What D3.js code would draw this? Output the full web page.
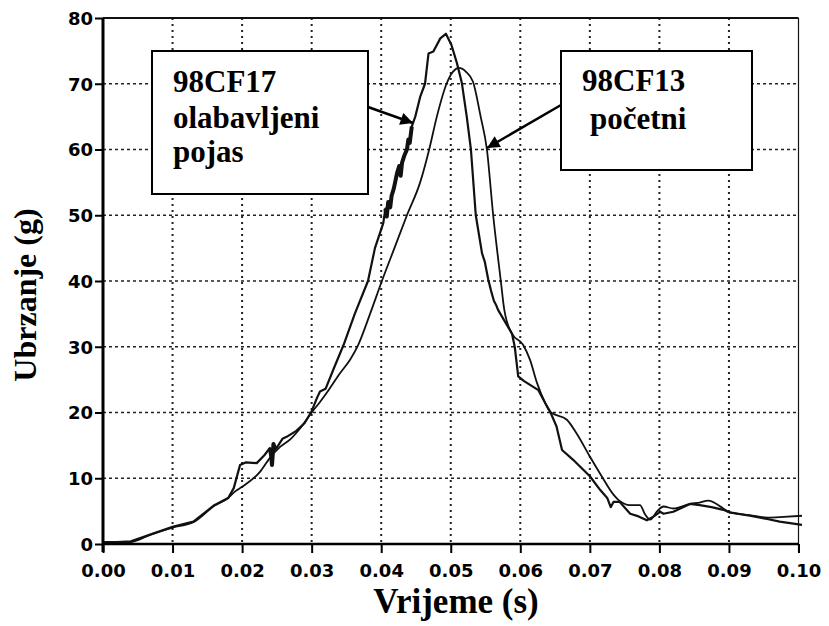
<!DOCTYPE html>
<html>
<head>
<meta charset="utf-8">
<script src="https://cdn.jsdelivr.net/npm/d3@7"></script>
<style>
  html, body { margin: 0; padding: 0; background: #fff; }
  svg { display: block; }
</style>
</head>
<body>
<svg id="chart" width="829" height="626"></svg>
<script>
// ---- Data ----
const xTicks = [0, 0.01, 0.02, 0.03, 0.04, 0.05, 0.06, 0.07, 0.08, 0.09, 0.10];
const xTickLabels = ["0.00","0.01","0.02","0.03","0.04","0.05","0.06","0.07","0.08","0.09","0.10"];
const yTicks = [0, 10, 20, 30, 40, 50, 60, 70, 80];
const yTickLabels = ["0","10","20","30","40","50","60","70","80"];

// 98CF17 olabavljeni pojas (time s, acceleration g)
const cf17Time = [0.000,0.002,0.004,0.007,0.010,0.013,0.016,0.018,0.0188,0.0197,0.0205,0.0221,0.0232,0.0240,0.0242,0.0243,0.0245,0.0248,0.0252,0.0258,0.0264,0.0278,0.0290,0.0300,0.0308,0.0312,0.0320,0.0333,0.0346,0.0362,0.0381,0.0391,0.0403,0.0406,0.0408,0.0410,0.0413,0.0415,0.0418,0.0420,0.0423,0.0426,0.0428,0.0430,0.0433,0.0437,0.0439,0.0441,0.0444,0.0449,0.0456,0.0463,0.0468,0.0475,0.0485,0.0493,0.0501,0.0509,0.0516,0.0523,0.0529,0.0536,0.0545,0.0549,0.0554,0.0558,0.0562,0.0565,0.0568,0.0588,0.0592,0.0597,0.0605,0.0614,0.0626,0.0636,0.0643,0.0652,0.0660,0.0676,0.0700,0.0715,0.0725,0.0730,0.0734,0.0743,0.0758,0.0770,0.0782,0.0792,0.0801,0.0806,0.0820,0.0844,0.0858,0.0875,0.0892,0.0901,0.0930,0.0955,0.0973,0.1005];
const cf17Acc  = [0.3,0.3,0.4,1.5,2.6,3.4,5.9,7.0,8.5,12.0,12.4,12.3,13.5,14.6,13.2,12.0,15.2,14.4,15.0,16.0,16.3,17.2,18.4,20.2,22.3,23.2,23.6,27.0,30.3,35.0,40.0,45.0,48.8,51.0,49.8,52.0,51.2,53.0,54.0,55.0,56.5,57.5,56.0,58.0,59.0,60.0,61.5,61.0,63.5,65.0,68.0,70.0,74.6,74.9,76.9,77.6,75.9,73.1,70.1,65.0,60.0,50.0,44.2,42.9,40.2,38.5,37.0,36.4,35.6,32.0,30.0,25.5,24.8,24.2,23.4,21.4,20.1,17.9,14.3,12.8,10.3,8.2,7.0,5.6,6.4,6.4,4.6,4.2,3.6,4.2,4.9,4.6,4.9,6.1,5.9,5.6,5.2,4.8,4.3,3.8,3.4,2.9];

// 98CF13 početni
const cf13Time = [0.000,0.002,0.004,0.007,0.010,0.013,0.016,0.018,0.019,0.020,0.0226,0.024,0.0255,0.027,0.0285,0.030,0.0312,0.0325,0.0341,0.0355,0.0367,0.0384,0.0401,0.0419,0.0437,0.0456,0.0469,0.0480,0.0494,0.0503,0.0512,0.0522,0.0532,0.0543,0.0552,0.0561,0.0572,0.0577,0.0588,0.0604,0.0614,0.0624,0.0636,0.0643,0.0667,0.0681,0.0700,0.0717,0.0734,0.0741,0.0758,0.0772,0.0780,0.0787,0.0796,0.0806,0.0820,0.0844,0.0858,0.0870,0.0892,0.0901,0.0930,0.0955,0.0973,0.1005];
const cf13Acc  = [0.2,0.2,0.3,1.5,2.5,3.3,5.8,7.0,8.0,8.7,11.0,13.1,14.8,16.0,17.8,20.0,21.6,23.5,26.0,28.0,30.3,35.0,40.0,45.0,50.0,55.0,60.0,65.0,70.0,71.8,72.4,71.8,70.3,65.0,60.0,50.0,40.0,35.6,32.0,30.3,28.0,24.5,21.4,20.1,18.9,16.8,13.3,10.3,7.5,6.7,5.9,5.9,4.4,3.7,4.9,5.7,5.4,6.1,6.3,6.6,5.4,4.8,4.4,4.0,4.1,4.3];

// ---- Chart ----
const svg = d3.select("#chart");
const x = d3.scaleLinear().domain([0, 0.10]).range([103, 798.5]);
const y = d3.scaleLinear().domain([0, 80]).range([544, 18]);

// grid
const grid = svg.append("g");
grid.selectAll("line.v").data(xTicks.slice(1, -1)).join("line")
  .attr("x1", d => x(d)).attr("x2", d => x(d))
  .attr("y1", y(80)).attr("y2", y(0))
  .attr("stroke", "#222").attr("stroke-width", 2).attr("stroke-dasharray", "2,4");
grid.selectAll("line.h").data(yTicks.slice(1, -1)).join("line")
  .attr("x1", x(0)).attr("x2", x(0.10))
  .attr("y1", d => y(d)).attr("y2", d => y(d))
  .attr("stroke", "#222").attr("stroke-width", 1.6).attr("stroke-dasharray", "3,3");

// curves
const lineSmooth = d3.line().x(d => x(d[0])).y(d => y(d[1])).curve(d3.curveMonotoneX);
const lineRough = d3.line().x(d => x(d[0])).y(d => y(d[1]));
const cf17 = cf17Time.map((t, i) => [t, cf17Acc[i]]);
const cf13 = cf13Time.map((t, i) => [t, cf13Acc[i]]);
svg.append("path").datum(cf13).attr("d", lineSmooth)
  .attr("fill", "none").attr("stroke", "#111").attr("stroke-width", 1.8).attr("stroke-linejoin", "round");
svg.append("path").datum(cf17).attr("d", lineRough)
  .attr("fill", "none").attr("stroke", "#111").attr("stroke-width", 2.2).attr("stroke-linejoin", "round");
// thick noisy portions of 98CF17
svg.append("path").datum(cf17.filter(d => d[0] >= 0.0405 && d[0] <= 0.0444)).attr("d", lineRough)
  .attr("fill", "none").attr("stroke", "#111").attr("stroke-width", 4).attr("stroke-linejoin", "round");
svg.append("path").datum(cf17.filter(d => d[0] >= 0.0240 && d[0] <= 0.0248)).attr("d", lineRough)
  .attr("fill", "none").attr("stroke", "#111").attr("stroke-width", 4).attr("stroke-linejoin", "round");

// frame: top and right
svg.append("line").attr("x1", x(0)).attr("x2", x(0.10)).attr("y1", y(80)).attr("y2", y(80))
  .attr("stroke", "#111").attr("stroke-width", 2);
svg.append("line").attr("x1", x(0.10)).attr("x2", x(0.10)).attr("y1", y(80)).attr("y2", y(0) + 8)
  .attr("stroke", "#111").attr("stroke-width", 1.2);

// axes
const xAxis = d3.axisBottom(x).tickValues(xTicks).tickSize(9)
  .tickFormat((d, i) => xTickLabels[i]);
const gx = svg.append("g").attr("transform", `translate(0,${y(0)})`).call(xAxis);
gx.select(".domain").attr("stroke", "#000").attr("stroke-width", 2.5)
  .attr("d", `M${x(0)},0H${x(0.10)}`);
gx.selectAll(".tick line").attr("stroke", "#000").attr("stroke-width", 2);
gx.selectAll(".tick text").attr("fill", "#000")
  .style("font-family", "'DejaVu Sans', sans-serif").style("font-weight", "bold")
  .style("font-size", "18px").attr("dy", "0").attr("y", 33);

const yAxis = d3.axisLeft(y).tickValues(yTicks).tickSize(8)
  .tickFormat((d, i) => yTickLabels[i]);
const gy = svg.append("g").attr("transform", `translate(${x(0)},0)`).call(yAxis);
gy.select(".domain").attr("stroke", "#000").attr("stroke-width", 3)
  .attr("d", `M0,${y(80)}V${y(0) + 8}`);
gy.selectAll(".tick line").attr("stroke", "#000").attr("stroke-width", 2);
gy.selectAll(".tick text").attr("fill", "#000")
  .style("font-family", "'DejaVu Sans', sans-serif").style("font-weight", "bold")
  .style("font-size", "18px").attr("x", -10).attr("dy", "0.36em");

// axis titles
svg.append("text").attr("x", 456).attr("y", 613).attr("text-anchor", "middle")
  .style("font-family", "'Liberation Serif', 'Times New Roman', serif")
  .style("font-weight", "bold").style("font-size", "35px").text("Vrijeme (s)");
svg.append("text").attr("transform", "translate(36,295) rotate(-90)").attr("text-anchor", "middle")
  .style("font-family", "'Liberation Serif', 'Times New Roman', serif")
  .style("font-weight", "bold").style("font-size", "32px").text("Ubrzanje (g)");

// arrow marker
const defs = svg.append("defs");
defs.append("marker").attr("id", "arr").attr("viewBox", "0 0 10 10")
  .attr("refX", 10).attr("refY", 5).attr("markerWidth", 6).attr("markerHeight", 5)
  .attr("markerUnits", "strokeWidth").attr("orient", "auto")
  .append("path").attr("d", "M0,0L10,5L0,10Z").attr("fill", "#000");

svg.append("line").attr("x1", 368).attr("y1", 107).attr("x2", 413).attr("y2", 123)
  .attr("stroke", "#000").attr("stroke-width", 2.5).attr("marker-end", "url(#arr)");
svg.append("line").attr("x1", 561).attr("y1", 105).attr("x2", 487).attr("y2", 148)
  .attr("stroke", "#000").attr("stroke-width", 2.5).attr("marker-end", "url(#arr)");

// annotation boxes
function box(x0, y0, w, h, lines) {
  const g = svg.append("g");
  g.append("rect").attr("x", x0).attr("y", y0).attr("width", w).attr("height", h)
    .attr("fill", "#fff").attr("stroke", "#000").attr("stroke-width", 2);
  lines.forEach(l => {
    g.append("text").attr("x", l[0]).attr("y", l[1])
      .style("font-family", "'Liberation Serif', 'Times New Roman', serif")
      .style("font-weight", "bold").style("font-size", "31px").text(l[2]);
  });
}
box(152, 51, 216, 143, [[173, 92, "98CF17"], [173, 128, "olabavljeni"], [173, 162, "pojas"]]);
box(561, 51, 191, 119, [[582, 91, "98CF13"], [590, 129, "početni"]]);
</script>
</body>
</html>
